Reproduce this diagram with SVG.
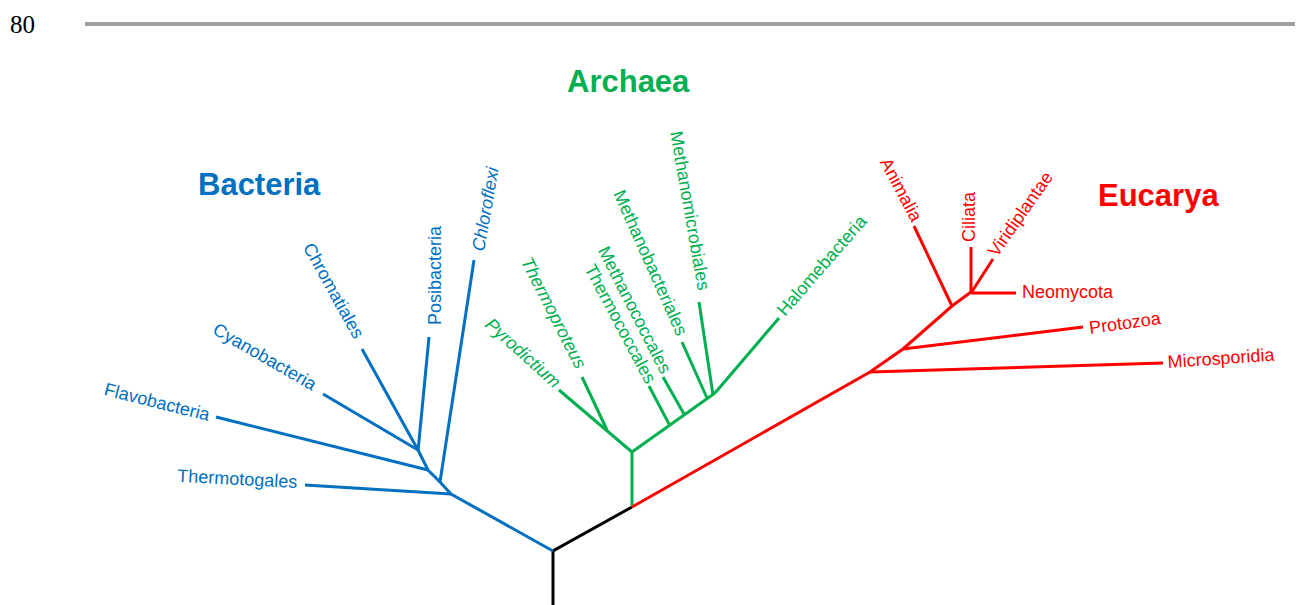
<svg xmlns="http://www.w3.org/2000/svg" width="1307" height="605" viewBox="0 0 1307 605">
<style>
.lbl{font-family:"Liberation Sans",Arial,sans-serif;font-size:18px}
.it{font-style:italic}
.ttl{font-family:"Liberation Sans",Arial,sans-serif;font-size:31px;font-weight:bold}
.b{fill:#0070C0}.g{fill:#00B050}.r{fill:#FF0000}
.br{fill:none;stroke-width:3;stroke-linecap:butt;stroke-linejoin:miter}
.sb{stroke:#0070C0}.sg{stroke:#00B050}.sr{stroke:#FF0000}.sk{stroke:#000}
</style>
<rect width="1307" height="605" fill="#fff"/>
<g id="page-header">
<text x="10" y="33" font-family="Liberation Serif,serif" font-size="25" fill="#000">80</text>
<line x1="85" y1="24" x2="1295" y2="24" stroke="#a0a0a0" stroke-width="4"/>
</g>
<g id="connectors">
<polyline class="br sk" points="553,605 553,551 632,507"/>
<polyline class="br sb" points="553,551 451,494 440,482 428,470 418,450"/>
<line class="br sb" x1="451" y1="494" x2="305" y2="485"/>
<line class="br sb" x1="440" y1="482" x2="474" y2="260"/>
<line class="br sb" x1="428" y1="470" x2="216" y2="417"/>
<line class="br sb" x1="418" y1="451" x2="429" y2="337"/>
<line class="br sb" x1="418" y1="450" x2="323" y2="394"/>
<line class="br sb" x1="418" y1="450" x2="362" y2="349"/>
<polyline class="br sg" points="632,507 632,452 559,390"/>
<line class="br sg" x1="607" y1="430" x2="582" y2="377"/>
<line class="br sg" x1="632" y1="452" x2="715" y2="393"/>
<line class="br sg" x1="669" y1="424" x2="649" y2="386"/>
<line class="br sg" x1="684" y1="414" x2="663" y2="377"/>
<line class="br sg" x1="707" y1="398" x2="682" y2="342"/>
<line class="br sg" x1="713" y1="395" x2="699" y2="302"/>
<line class="br sg" x1="715" y1="393" x2="779" y2="318"/>
<polyline class="br sr" points="632,507 870,372 903,349 952,306 971,292"/>
<line class="br sr" x1="870" y1="372" x2="1163" y2="363"/>
<line class="br sr" x1="903" y1="349" x2="1083" y2="327"/>
<line class="br sr" x1="952" y1="306" x2="914" y2="226"/>
<line class="br sr" x1="971" y1="293" x2="971" y2="247"/>
<line class="br sr" x1="971" y1="293" x2="993" y2="259"/>
<line class="br sr" x1="971" y1="293" x2="1016" y2="293"/>
</g>
<g id="title-bacteria"><text class="ttl b" x="198" y="195">Bacteria</text></g>
<g id="title-archaea"><text class="ttl g" x="567" y="92">Archaea</text></g>
<g id="title-eucarya"><text class="ttl r" x="1098" y="206">Eucarya</text></g>
<g id="thermotogales"><text class="lbl b" text-anchor="end" transform="translate(297,488) rotate(3)">Thermotogales</text></g>
<g id="flavobacteria"><text class="lbl b" text-anchor="end" transform="translate(208,421) rotate(14)">Flavobacteria</text></g>
<g id="cyanobacteria"><text class="lbl b" text-anchor="end" transform="translate(312,391) rotate(30)">Cyanobacteria</text></g>
<g id="chromatiales"><text class="lbl b" text-anchor="end" transform="translate(354,340) rotate(61)">Chromatiales</text></g>
<g id="posibacteria"><text class="lbl b" transform="translate(441,325) rotate(-90)">Posibacteria</text></g>
<g id="chloroflexi"><text class="lbl b it" transform="translate(484,252) rotate(-80)">Chloroflexi</text></g>
<g id="pyrodictium"><text class="lbl g it" text-anchor="end" transform="translate(554,389) rotate(42)">Pyrodictium</text></g>
<g id="thermoproteus"><text class="lbl g it" text-anchor="end" transform="translate(576,370) rotate(63)">Thermoproteus</text></g>
<g id="thermococcales"><text class="lbl g" text-anchor="end" transform="translate(646,385) rotate(62)">Thermococcales</text></g>
<g id="methanococcales"><text class="lbl g" text-anchor="end" transform="translate(661,375) rotate(63)">Methanococcales</text></g>
<g id="methanobacteriales"><text class="lbl g" text-anchor="end" transform="translate(677,337) rotate(66)">Methanobacteriales</text></g>
<g id="methanomicrobiales"><text class="lbl g" text-anchor="end" transform="translate(698,291) rotate(80)">Methanomicrobiales</text></g>
<g id="halomebacteria"><text class="lbl g" transform="translate(785,317) rotate(-49)">Halomebacteria</text></g>
<g id="animalia"><text class="lbl r" text-anchor="end" transform="translate(912,223) rotate(62)">Animalia</text></g>
<g id="ciliata"><text class="lbl r" transform="translate(975,242) rotate(-90)">Ciliata</text></g>
<g id="viridiplantae"><text class="lbl r" transform="translate(997,258) rotate(-55)">Viridiplantae</text></g>
<g id="neomycota"><text class="lbl r" x="1022" y="298">Neomycota</text></g>
<g id="protozoa"><text class="lbl r" transform="translate(1090,334) rotate(-8)">Protozoa</text></g>
<g id="microsporidia"><text class="lbl r" transform="translate(1168,368) rotate(-4)">Microsporidia</text></g>
</svg>
